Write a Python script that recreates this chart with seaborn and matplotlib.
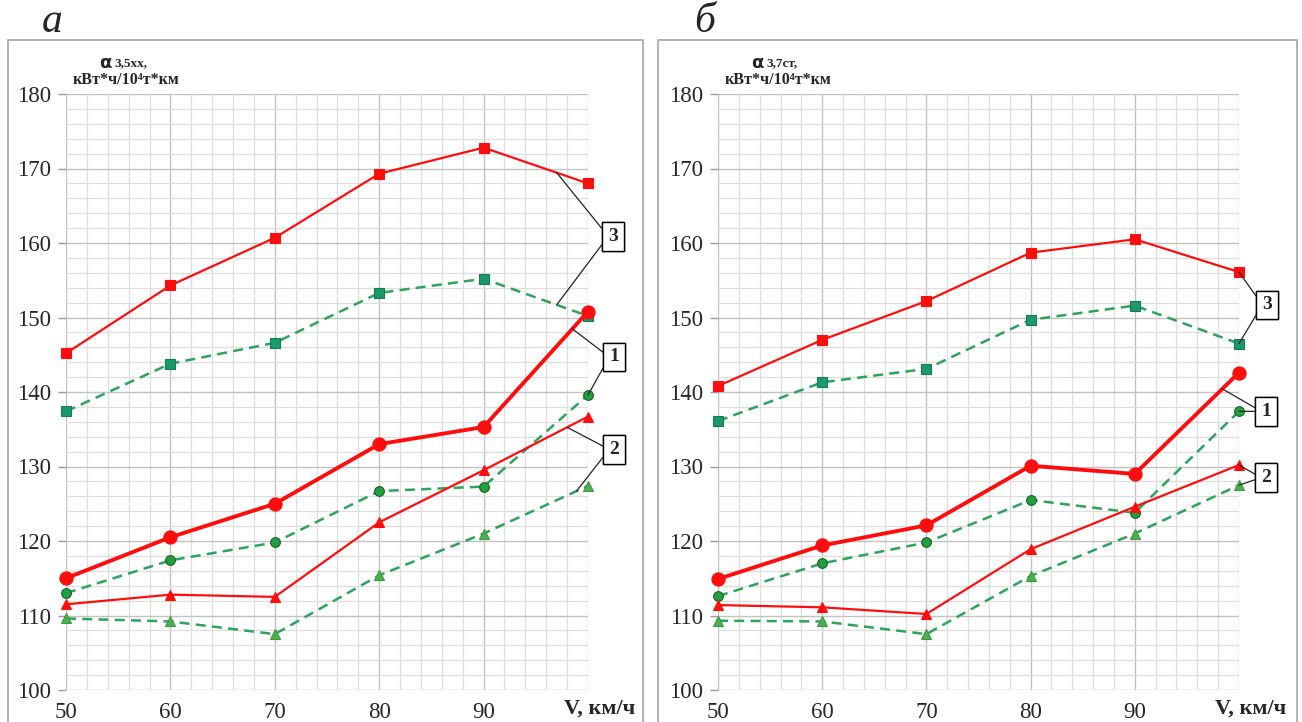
import numpy as np
import pandas as pd
import matplotlib
matplotlib.use("Agg")
import matplotlib.pyplot as plt
from matplotlib.patches import Rectangle
import seaborn as sns

# Speed, km/h
speeds = [50, 60, 70, 80, 90, 100]

# Panel "а": specific energy consumption α 3,5хх
a_sq_red = [145.2, 154.3, 160.7, 169.3, 172.8, 168.0]
a_sq_green = [137.4, 143.8, 146.6, 153.3, 155.2, 150.2]
a_ci_red = [115.0, 120.5, 125.0, 133.0, 135.3, 150.8]
a_ci_green = [113.0, 117.4, 119.8, 126.7, 127.3, 139.6]
a_tr_red = [111.5, 112.8, 112.5, 122.5, 129.5, 136.7]
a_tr_green = [109.6, 109.2, 107.5, 115.4, 121.0, 127.4]

# Panel "б": specific energy consumption α 3,7ст
b_sq_red = [140.8, 147.0, 152.2, 158.7, 160.5, 156.1]
b_sq_green = [136.1, 141.3, 143.1, 149.7, 151.6, 146.5]
b_ci_red = [114.9, 119.4, 122.1, 130.1, 129.0, 142.6]
b_ci_green = [112.6, 117.0, 119.8, 125.5, 123.8, 137.4]
b_tr_red = [111.4, 111.1, 110.2, 118.9, 124.6, 130.2]
b_tr_green = [109.3, 109.2, 107.5, 115.3, 121.0, 127.5]

x_tick_labels = ["50", "60", "70", "80", "90", ""]
y_ticks = [100, 110, 120, 130, 140, 150, 160, 170, 180]

sns.set_style("white")
plt.rcParams["font.family"] = ["Liberation Serif", "DejaVu Serif"]

RED = "#ff0d0d"
GREEN_LINE = "#2ea35c"

fig = plt.figure(figsize=(13.02, 7.22), dpi=100)

W, H = 1302.0, 722.0


def fx(px):
    return px / W


def fy(py):
    return 1 - py / H


# panel frames
for x0, x1 in [(8, 643), (658, 1297)]:
    fig.add_artist(Rectangle((fx(x0), fy(730)), fx(x1) - fx(x0), fy(40) - fy(730),
                             transform=fig.transFigure, fill=False,
                             edgecolor="#a6a6a6", lw=1.2, zorder=0))

panels = [
    dict(left=66, right=588, letter="а", sub="3,5хх,",
         series=[a_sq_red, a_sq_green, a_ci_red, a_ci_green, a_tr_red, a_tr_green],
         boxes={"3": ((102.4, 160.9), [(97.0, 0), (97.0, 1)]),
                "1": ((102.5, 144.7), [(98.5, 2), (100.0, 3)]),
                "2": ((102.5, 132.3), [(98.0, 4), (98.9, 5)])}),
    dict(left=718, right=1239, letter="б", sub="3,7ст,",
         series=[b_sq_red, b_sq_green, b_ci_red, b_ci_green, b_tr_red, b_tr_green],
         boxes={"3": ((102.7, 151.7), [(100.0, 0), (100.0, 1)]),
                "1": ((102.6, 137.4), [(98.4, 2), (100.0, 3)]),
                "2": ((102.6, 128.5), [(100.0, 4), (100.0, 5)])}),
]

styles = [
    dict(color=RED, lw=1.6, ls="-", marker="s", ms=6.5, mfc=RED, mec=RED),
    dict(color=GREEN_LINE, lw=1.8, ls=(0, (4, 2.5)), marker="s", ms=6.5, mfc="#1a9a6c", mec="#157a55"),
    dict(color=RED, lw=2.8, ls="-", marker="o", ms=9.5, mfc=RED, mec=RED),
    dict(color=GREEN_LINE, lw=1.8, ls=(0, (4, 2.5)), marker="o", ms=7, mfc="#22a040", mec="#17602a"),
    dict(color=RED, lw=1.6, ls="-", marker="^", ms=7, mfc=RED, mec=RED),
    dict(color=GREEN_LINE, lw=1.8, ls=(0, (4, 2.5)), marker="^", ms=7, mfc="#4cb050", mec="#3c9a40"),
]

for p in panels:
    ax = fig.add_axes([fx(p["left"]), fy(690), fx(p["right"]) - fx(p["left"]), fy(94) - fy(690)])
    for vals, st in zip(p["series"], styles):
        df = pd.DataFrame({"V": speeds, "alpha": vals})
        sns.lineplot(data=df, x="V", y="alpha", ax=ax, color=st["color"], lw=st["lw"],
                     linestyle=st["ls"], marker=st["marker"], markersize=st["ms"],
                     markerfacecolor=st["mfc"], markeredgecolor=st["mec"],
                     markeredgewidth=0.8, clip_on=False, zorder=3)
    ax.set_xlim(50, 100)
    ax.set_ylim(100, 180)
    ax.set_xticks(speeds)
    ax.set_xticklabels(x_tick_labels)
    ax.set_yticks(y_ticks)
    ax.set_xticks(np.arange(50, 101, 2), minor=True)
    ax.set_yticks(np.arange(100, 181, 2), minor=True)
    ax.grid(which="major", color="#c2c2c2", lw=1.0, zorder=0)
    ax.grid(which="minor", color="#dedede", lw=0.9, zorder=0)
    ax.set_axisbelow(True)
    for s in ax.spines.values():
        s.set_visible(False)
    ax.tick_params(axis="y", which="major", length=6, color="#9a9a9a", width=1,
                   labelsize=16.5, pad=5, direction="out", left=True)
    ax.tick_params(axis="x", which="major", length=0, labelsize=16.5, pad=9)
    ax.tick_params(which="minor", length=0)
    ax.set_xlabel("")
    ax.set_ylabel("")

    # axis captions
    fig.text(fx(p["right"] + 47), fy(709), "V, км/ч", ha="right", va="center",
             fontsize=16, fontweight="bold")
    cx = p["left"] + 40
    fig.text(fx(cx + 5), fy(63), "α", ha="right", va="center", fontsize=13,
             fontweight="bold", family=["DejaVu Sans"])
    fig.text(fx(cx + 8), fy(63), p["sub"], ha="left", va="center", fontsize=9.5,
             fontweight="bold")
    fig.text(fx(cx + 20), fy(80), "кВт*ч/10⁴т*км", ha="center", va="center",
             fontsize=11.5, fontweight="bold")
    fig.text(fx(p["left"] - 24), fy(22), p["letter"], ha="left", va="center",
             fontsize=30, style="italic")

    # numbered callouts
    for label, ((bx, by), targets) in p["boxes"].items():
        for tx, idx in targets:
            ty = float(np.interp(tx, speeds, p["series"][idx]))
            ax.annotate(label, xy=(tx, ty), xytext=(bx, by), xycoords="data",
                        textcoords="data", ha="center", va="center", fontsize=14,
                        fontweight="bold", annotation_clip=False,
                        bbox=dict(boxstyle="square,pad=0.3", fc="white", ec="black", lw=1),
                        arrowprops=dict(arrowstyle="-", color="#222222", lw=0.9,
                                        shrinkA=0, shrinkB=0, relpos=(0, 0.5)),
                        zorder=5)

fig.savefig("out.png", dpi=100)
